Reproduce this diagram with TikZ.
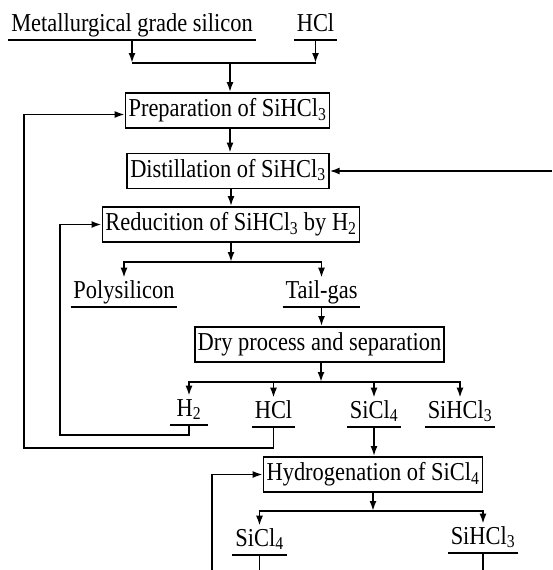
\documentclass[tikz,border=0pt]{standalone}
\usepackage{fontspec}
\setmainfont{Liberation Serif}[FakeStretch=0.87]
\usetikzlibrary{arrows.meta}

\tikzset{
  box/.style={draw, inner xsep=3pt, inner ysep=5.5pt, text height=18pt, text depth=6pt},
  stream/.style={inner xsep=2pt, inner ysep=1.5pt, text height=18pt, text depth=6.5pt},
  flow/.style={-{Latex[length=10pt,width=7pt]}},
}

\begin{document}
\begin{tikzpicture}[x=1pt, y=-1pt, line width=1.8pt, font=\fontsize{25.8}{30}\selectfont]
        \useasboundingbox (0,0) rectangle (552,570);

        \coordinate (j1)      at (230,63);
        \coordinate (j2)      at (231,262);
        \coordinate (j3)      at (321,382);
        \coordinate (j4)      at (373,511);
        \coordinate (hback)   at (60,435);
        \coordinate (hclback) at (24,448);
        \coordinate (recyc)   at (552,171);
        \coordinate (hydback) at (212,570);

        \node[stream, anchor=south] (mgs)    at (132,40)    {Metallurgical grade silicon};
        \node[stream, anchor=south] (hcl)    at (315.5,40)  {HCl};
        \node[box]                  (prep)   at (227.5,110.5) {Preparation of SiHCl\textsubscript{3}};
        \node[box]                  (dist)   at (228,171)   {Distillation of SiHCl\textsubscript{3}};
        \node[box]                  (red)    at (231,224.5) {Reducition of SiHCl\textsubscript{3} by H\textsubscript{2}};
        \node[stream, anchor=south] (poly)   at (124,307)   {Polysilicon};
        \node[stream, anchor=south] (tail)   at (321.5,307) {Tail-gas};
        \node[box]                  (dry)    at (319.5,344.5) {Dry process and separation};
        \node[stream, anchor=south, minimum width=36pt] (h2) at (189,425) {H\textsubscript{2}};
        \node[stream, anchor=south] (hclb)   at (273.5,427) {HCl};
        \node[stream, anchor=south] (sicl)   at (374,427)   {SiCl\textsubscript{4}};
        \node[stream, anchor=south] (sihcl)  at (460,427)   {SiHCl\textsubscript{3}};
        \node[box]                  (hyd)    at (373,474.5) {Hydrogenation of SiCl\textsubscript{4}};
        \node[stream, anchor=south] (siclb)  at (259.5,555) {SiCl\textsubscript{4}};
        \node[stream, anchor=south] (sihclb) at (483,553)   {SiHCl\textsubscript{3}};

        \foreach \n in {mgs,hcl,poly,tail,h2,hclb,sicl,sihcl,siclb,sihclb}
            \draw (\n.south west) -- (\n.south east);

        \draw (mgs.south |- j1) -- (hcl.south |- j1);
        \draw[flow] (mgs.south) -- (mgs.south |- j1);
        \draw[flow] (hcl.south) -- (hcl.south |- j1);
        \draw[flow] (j1) -- (j1 |- prep.north);
        \draw[flow] (j1 |- prep.south) -- (j1 |- dist.north);
        \draw[flow] (red.north |- dist.south) -- (red.north);
        \draw[flow] (recyc) -- (dist.east);

        \draw[flow] (red.south) -- (j2);
        \draw[flow] (j2) -| (poly.north);
        \draw[flow] (j2) -| (tail.north);
        \draw[flow] (tail.south) -- (tail.south |- dry.north);

        \draw[flow] (dry.south -| j3) -- (j3);
        \foreach \n in {h2,hclb,sicl,sihcl}
            \draw[flow] (j3) -| (\n.north);
        \draw[flow] (h2.south) |- (hback) |- (red.west);
        \draw[flow] (hclb.south) |- (hclback) |- ([yshift=-4pt]prep.west);

        \draw[flow] (sicl.south) -- (sicl.south |- hyd.north);
        \draw[flow] (hyd.south) -- (j4);
        \draw[flow] (j4) -| (siclb.north);
        \draw[flow] (j4) -| (sihclb.north);
        \draw[flow] (hydback) |- (hyd.west);
        \draw (siclb.south) -- (siclb.south |- hydback);
        \draw (sihclb.south) -- (sihclb.south |- hydback);
    \end{tikzpicture}
\end{document}
